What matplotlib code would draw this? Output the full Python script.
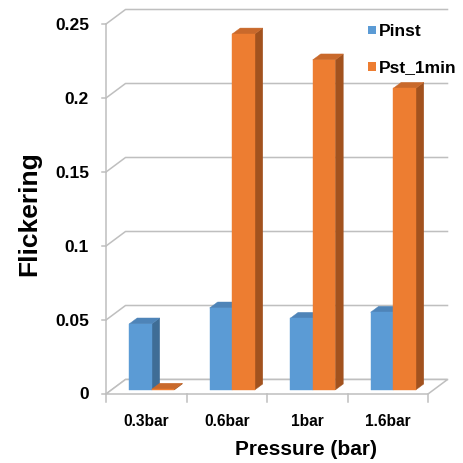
import numpy as np
import matplotlib
matplotlib.use("Agg")
import matplotlib.pyplot as plt
from matplotlib.patches import Polygon, Rectangle

# data
categories = ["0.3bar", "0.6bar", "1bar", "1.6bar"]
pinst = [0.0446, 0.0554, 0.0484, 0.0525]
pst_1min = [0.0005, 0.2405, 0.223, 0.2038]
series_names = ["Pinst", "Pst_1min"]
yticks = [0, 0.05, 0.1, 0.15, 0.2, 0.25]
ytick_labels = ["0", "0.05", "0.1", "0.15", "0.2", "0.25"]

front_cols = ["#5B9BD5", "#ED7D31"]
top_cols = ["#4E84B8", "#C9692B"]
side_cols = ["#3F6D96", "#A2521E"]
grid_col = "#BFBFBF"

plt.rcParams['font.family'] = ['Liberation Sans', 'DejaVu Sans']
plt.rcParams['font.weight'] = 'bold'

W = H = 464
fig = plt.figure(figsize=(W / 100, H / 100), dpi=100)
ax = fig.add_axes([0, 0, 1, 1])
ax.set_axis_off()

# pixel layout of the front plane: category 0 at x=106, 4 at x=428; value 0 at y=395, 0.25 at y=25
px_cat = (428 - 106) / len(categories)
px_val = (395 - 25) / 0.25
ax.set_xlim(-106 / px_cat, (W - 106) / px_cat)
ax.set_ylim(-(H - 395) / px_val, 395 / px_val)

# depth offset of the back wall (data units)
DX = 19.5 / px_cat
DY = 14.5 / px_val
n = len(categories)

# back wall gridlines + side diagonals
for v in yticks:
    ax.plot([0, DX, n + DX], [v, v + DY, v + DY], color=grid_col, lw=1.1, zorder=1)
# floor
ax.add_patch(Polygon([(0, 0), (n, 0), (n + DX, DY), (DX, DY)], closed=True,
                     facecolor="white", edgecolor=grid_col, lw=1.1, zorder=2))
# front value axis
ax.plot([0, 0], [0, yticks[-1]], color=grid_col, lw=1.1, zorder=2)
for v, lab in zip(yticks, ytick_labels):
    ax.plot([-4 / px_cat, 0], [v, v], color=grid_col, lw=1.1, zorder=2)
    ax.text(-17 / px_cat, v, lab, ha="right", va="center", fontsize=12.5, fontweight="bold")
for i in range(n + 1):
    ax.plot([i, i], [0, -8 / px_val], color=grid_col, lw=1.1, zorder=2)
for i, c in enumerate(categories):
    ax.text(i + 0.5, -27 / px_val, c, ha="center", va="center", fontsize=11.2, fontweight="bold")

# 3D bars
bw = 0.28
z0, z1 = 0.28, 0.69
values = [pinst, pst_1min]
for i in range(n):
    for s in range(2):
        v = values[s][i]
        xl = i + 0.5 - bw + s * bw + z0 * DX
        xr = xl + bw
        yb = z0 * DY
        yt = v + z0 * DY
        ddx = (z1 - z0) * DX
        ddy = (z1 - z0) * DY
        zo = 5 + i * 2 + s
        ax.add_patch(Polygon([(xr, yb), (xr + ddx, yb + ddy), (xr + ddx, yt + ddy), (xr, yt)],
                             closed=True, facecolor=side_cols[s], edgecolor=side_cols[s], lw=0.3, zorder=zo))
        ax.add_patch(Polygon([(xl, yt), (xr, yt), (xr + ddx, yt + ddy), (xl + ddx, yt + ddy)],
                             closed=True, facecolor=top_cols[s], edgecolor=top_cols[s], lw=0.3, zorder=zo))
        ax.add_patch(Polygon([(xl, yb), (xr, yb), (xr, yt), (xl, yt)],
                             closed=True, facecolor=front_cols[s], edgecolor=front_cols[s], lw=0.3, zorder=zo))

# legend
leg_y = [31, 67.5]
for s in range(2):
    fig.add_artist(Rectangle((368 / W, 1 - (leg_y[s] + 4) / H), 8 / W, 8 / H,
                             transform=fig.transFigure, facecolor=front_cols[s], edgecolor="none"))
    fig.text(379 / W, 1 - leg_y[s] / H, series_names[s], ha="left", va="center",
             fontsize=12.5, fontweight="bold")

# axis titles
fig.text(29.5 / W, 1 - 214 / H, "Flickering", rotation=90, ha="center", va="center",
         fontsize=19, fontweight="bold")
fig.text(306.5 / W, 1 - 450 / H, "Pressure (bar)", ha="center", va="center",
         fontsize=15, fontweight="bold")

fig.savefig("out.png", dpi=100)
